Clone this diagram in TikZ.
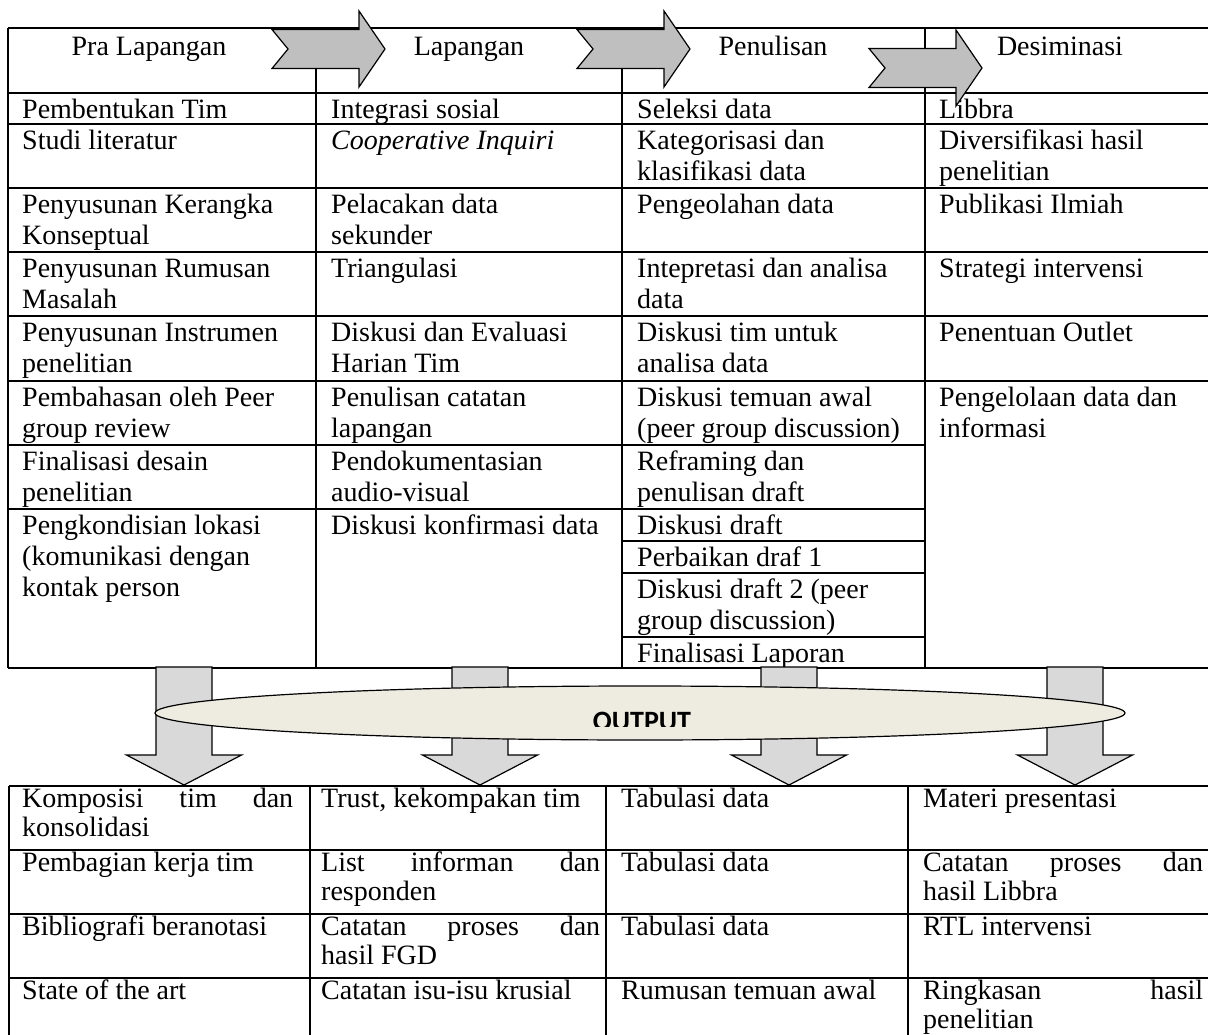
\documentclass[tikz,border=0pt]{standalone}
\usepackage{fontspec}
\setmainfont{Liberation Serif}
\newfontfamily\outfont{Carlito}
\usetikzlibrary{shapes.geometric}
\definecolor{topgray}{HTML}{BFBFBF}
\definecolor{dgray}{HTML}{D9D9D9}
\definecolor{ellfill}{HTML}{EEECE1}
\newcommand{\fs}{\fontsize{28}{31}\selectfont}
\newcommand{\fsb}{\fontsize{28}{29}\selectfont}
\newcommand{\cellat}[4]{\node[cellt] (#1) at ({#2},{#3+3.3}) {\strut #4};}
\newcommand{\cellb}[4]{\node[cellbt] (#1) at ({#2},{#3+0.7}) {\strut #4};}
\newcommand{\jl}[2]{\makebox[#1pt][s]{#2}}
\newcommand{\rarr}[2]{%
  \draw[rarrow] ({#1},{#2-19.5}) -- ({#1+87},{#2-19.5}) -- ({#1+87},{#2-38}) -- ({#1+113},{#2}) --
    ({#1+87},{#2+38}) -- ({#1+87},{#2+19.5}) -- ({#1},{#2+19.5}) -- ({#1+16},{#2}) -- cycle;}
\newcommand{\darr}[1]{%
  \draw[darrow] ({#1-28},667) -- ({#1+28},667) -- ({#1+28},755) -- ({#1+57.5},755) -- ({#1},785) --
    ({#1-57.5},755) -- ({#1-28},755) -- cycle;}
\begin{document}
\begin{tikzpicture}[x=1pt,y=-1pt,
  tl/.style={line width=1.6pt},
  cellt/.style={anchor=north west,inner sep=0pt,align=left,font=\fs},
  cellbt/.style={anchor=north west,inner sep=0pt,align=left,font=\fsb},
  hdr/.style={anchor=base,inner sep=0pt,font=\fs},
  rarrow/.style={draw=black,line width=1.2pt,fill=topgray,line join=miter},
  darrow/.style={draw=black,line width=1.2pt,fill=dgray,line join=miter},
  outell/.style={ellipse,draw=black,line width=1.2pt,fill=ellfill,minimum width=970pt,minimum height=54pt,inner sep=0pt},
  outtxt/.style={anchor=base,inner sep=0pt,font=\outfont\bfseries\fontsize{28}{30}\selectfont}]
\useasboundingbox[fill=white] (0,0) rectangle (1208,1035);

% ---------- top table lines ----------
\draw[tl] (8,28) -- (1208,28);
\draw[tl] (8,93) -- (1208,93);
\foreach \y in {124,188,252,316,381} \draw[tl] (8,\y) -- (1208,\y);
\foreach \y in {445,509} \draw[tl] (8,\y) -- (925,\y);
\foreach \y in {541,573,637} \draw[tl] (622,\y) -- (925,\y);
\draw[tl] (8,668) -- (1208,668);
\foreach \x in {8,316,622,925} \draw[tl] (\x,28) -- (\x,668);

% ---------- headers ----------
\node[hdr] (h1) at (149,56) {Pra Lapangan};
\node[hdr] (h2) at (469,56) {Lapangan};
\node[hdr] (h3) at (773,56) {Penulisan};
\node[hdr] (h4) at (1060,56) {Desiminasi};

% ---------- column 1 ----------
\cellat{a1}{22}{93}{Pembentukan Tim}
\cellat{a2}{22}{124}{Studi literatur}
\cellat{a3}{22}{188}{Penyusunan Kerangka\\Konseptual}
\cellat{a4}{22}{252}{Penyusunan Rumusan\\Masalah}
\cellat{a5}{22}{316}{Penyusunan Instrumen\\penelitian}
\cellat{a6}{22}{381}{Pembahasan oleh Peer\\group review}
\cellat{a7}{22}{445}{Finalisasi desain\\penelitian}
\cellat{a8}{22}{509}{Pengkondisian lokasi\\(komunikasi dengan\\kontak person}
% ---------- column 2 ----------
\cellat{b1}{331}{93}{Integrasi sosial}
\cellat{b2}{331}{124}{\textit{Cooperative Inquiri}}
\cellat{b3}{331}{188}{Pelacakan data\\sekunder}
\cellat{b4}{331}{252}{Triangulasi}
\cellat{b5}{331}{316}{Diskusi dan Evaluasi\\Harian Tim}
\cellat{b6}{331}{381}{Penulisan catatan\\lapangan}
\cellat{b7}{331}{445}{Pendokumentasian\\audio-visual}
\cellat{b8}{331}{509}{Diskusi konfirmasi data}
% ---------- column 3 ----------
\cellat{c1}{637}{93}{Seleksi data}
\cellat{c2}{637}{124}{Kategorisasi dan\\klasifikasi data}
\cellat{c3}{637}{188}{Pengeolahan data}
\cellat{c4}{637}{252}{Intepretasi dan analisa\\data}
\cellat{c5}{637}{316}{Diskusi tim untuk\\analisa data}
\cellat{c6}{637}{381}{Diskusi temuan awal\\(peer group discussion)}
\cellat{c7}{637}{445}{Reframing dan\\penulisan draft}
\cellat{c8}{637}{509}{Diskusi draft}
\cellat{c9}{637}{541}{Perbaikan draf 1}
\cellat{c10}{637}{573}{Diskusi draft 2 (peer\\group discussion)}
\cellat{c11}{637}{637}{Finalisasi Laporan}
% ---------- column 4 ----------
\cellat{d1}{939}{93}{Libbra}
\cellat{d2}{939}{124}{Diversifikasi hasil\\penelitian}
\cellat{d3}{939}{188}{Publikasi Ilmiah}
\cellat{d4}{939}{252}{Strategi intervensi}
\cellat{d5}{939}{316}{Penentuan Outlet}
\cellat{d6}{939}{381}{Pengelolaan data dan\\informasi}

% ---------- top arrows ----------
\rarr{272}{49}
\rarr{577}{49}
\rarr{869}{68}

% ---------- bottom table ----------
\draw[tl] (9,786) -- (1208,786);
\foreach \y in {850,914,978} \draw[tl] (9,\y) -- (1208,\y);
\foreach \x in {9,310,606,908} \draw[tl] (\x,786) -- (\x,1035);

\cellb{e1}{22}{786}{\jl{271}{Komposisi tim dan}\\konsolidasi}
\cellb{e2}{22}{850}{Pembagian kerja tim}
\cellb{e3}{22}{914}{Bibliografi beranotasi}
\cellb{e4}{22}{978}{State of the art}
\cellb{f1}{321}{786}{Trust, kekompakan tim}
\cellb{f2}{321}{850}{\jl{279}{List informan dan}\\responden}
\cellb{f3}{321}{914}{\jl{279}{Catatan proses dan}\\hasil FGD}
\cellb{f4}{321}{978}{Catatan isu-isu krusial}
\cellb{g1}{621}{786}{Tabulasi data}
\cellb{g2}{621}{850}{Tabulasi data}
\cellb{g3}{621}{914}{Tabulasi data}
\cellb{g4}{621}{978}{Rumusan temuan awal}
\cellb{k1}{923}{786}{Materi presentasi}
\cellb{k2}{923}{850}{\jl{280}{Catatan proses dan}\\hasil Libbra}
\cellb{k3}{923}{914}{RTL intervensi}
\cellb{k4}{923}{978}{\jl{280}{Ringkasan hasil}\\penelitian}

% ---------- down arrows ----------
\darr{184}
\darr{480}
\darr{789}
\darr{1075}

% ---------- output ellipse ----------
\node[outell] (ell) at (640,713) {};
\begin{scope}
\clip (520,690) rectangle (780,726);
\node[outtxt] (out) at (642,730) {OUTPUT};
\end{scope}
\end{tikzpicture}
\end{document}
